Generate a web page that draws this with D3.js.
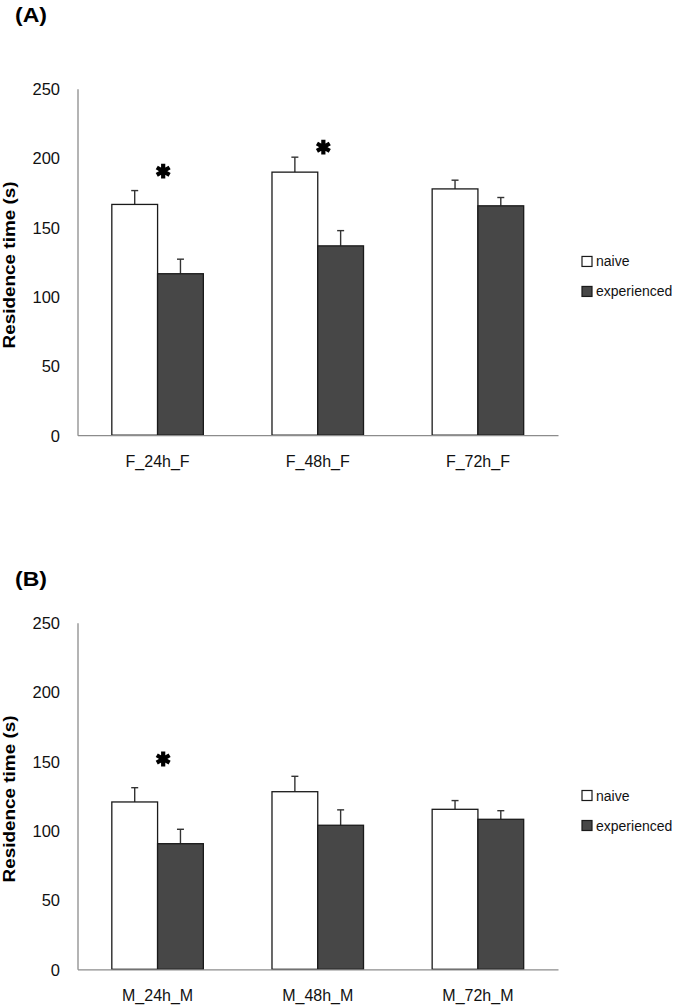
<!DOCTYPE html>
<html>
<head>
<meta charset="utf-8">
<script src="https://cdnjs.cloudflare.com/ajax/libs/d3/7.8.5/d3.min.js"></script>
<style>
  html, body { margin: 0; padding: 0; background: #fff; }
  svg { display: block; font-family: "Liberation Sans", Arial, sans-serif; }
</style>
</head>
<body>
<svg id="chart" width="675" height="1005"></svg>
<script>
// ---- data ----
const seriesNames = ["naive", "experienced"];
const yTicks = [0, 50, 100, 150, 200, 250];

const categoriesA = ["F_24h_F", "F_48h_F", "F_72h_F"];
const naiveA = [166.5, 189.8, 177.7];
const naiveErrA = [10.0, 10.8, 6.3];
const experiencedA = [116.5, 136.6, 165.5];
const experiencedErrA = [10.5, 11.0, 6.0];
const asteriskA = [190.5, 207.8, null];

const categoriesB = ["M_24h_M", "M_48h_M", "M_72h_M"];
const naiveB = [120.7, 128.1, 115.4];
const naiveErrB = [10.3, 11.1, 6.3];
const experiencedB = [90.6, 103.9, 108.2];
const experiencedErrB = [10.4, 11.1, 6.2];
const asteriskB = [151.7, null, null];

const panels = [
  { label: "(A)", cats: categoriesA, vals: [naiveA, experiencedA], errs: [naiveErrA, experiencedErrA], stars: asteriskA,
    top: 88.7, bottom: 435.2, labelY: 21.5 },
  { label: "(B)", cats: categoriesB, vals: [naiveB, experiencedB], errs: [naiveErrB, experiencedErrB], stars: asteriskB,
    top: 622.7, bottom: 969.3, labelY: 585.5 }
];

const fills = ["#ffffff", "#474747"];
const svg = d3.select("#chart");
const xLeft = 77.5, xRight = 558;

function asteriskPath(cx, cy, r) {
  const p = d3.path();
  [90, 30, -30].forEach(a => {
    const t = a * Math.PI / 180;
    p.moveTo(cx + r * Math.cos(t), cy - r * Math.sin(t));
    p.lineTo(cx - r * Math.cos(t), cy + r * Math.sin(t));
  });
  return p.toString();
}

panels.forEach(P => {
  const g = svg.append("g");
  const y = d3.scaleLinear().domain([0, 250]).range([P.bottom, P.top]);
  const x = d3.scaleBand().domain(P.cats).range([xLeft, xRight]).paddingInner(0).paddingOuter(0);
  const bw = x.bandwidth() / 3.5;
  const xs = d3.scaleBand().domain(seriesNames).range([0, 2 * bw]);

  // panel letter
  g.append("text").attr("x", 15).attr("y", P.labelY)
    .attr("font-size", 20).attr("font-weight", "bold").attr("fill", "#000")
    .attr("textLength", 32).attr("lengthAdjust", "spacingAndGlyphs")
    .text(P.label);

  // y axis
  const yAxis = d3.axisLeft(y).tickValues(yTicks).tickSize(0).tickPadding(17.5);
  const ya = g.append("g").attr("transform", `translate(${xLeft},0)`).call(yAxis);
  ya.select(".domain").attr("stroke", "#8c8c8c").attr("stroke-width", 1.3);
  ya.selectAll("text").attr("font-size", 16.5).attr("fill", "#111")
    .attr("font-family", "'Liberation Sans', Arial, sans-serif").attr("dy", "0.36em");

  // y title
  const midY = (P.top + P.bottom) / 2 + 3;
  g.append("text").attr("transform", `translate(15,${midY}) rotate(-90)`)
    .attr("text-anchor", "middle").attr("font-size", 16.5).attr("font-weight", "bold").attr("fill", "#000")
    .attr("textLength", 167).attr("lengthAdjust", "spacingAndGlyphs")
    .text("Residence time (s)");

  // bars
  P.cats.forEach((c, i) => {
    const gx = x(c) + (x.bandwidth() - 2 * bw) / 2;
    seriesNames.forEach((s, k) => {
      const v = P.vals[k][i], e = P.errs[k][i];
      const bx = gx + xs(s);
      const cx = bx + bw / 2;
      // error bar (upper only)
      g.append("line").attr("x1", cx).attr("x2", cx).attr("y1", y(v)).attr("y2", y(v + e))
        .attr("stroke", "#333").attr("stroke-width", 1.4);
      g.append("line").attr("x1", cx - 3.5).attr("x2", cx + 3.5).attr("y1", y(v + e)).attr("y2", y(v + e))
        .attr("stroke", "#333").attr("stroke-width", 1.4);
      g.append("rect").attr("x", bx).attr("y", y(v)).attr("width", bw).attr("height", y(0) - y(v))
        .attr("fill", fills[k]).attr("stroke", "#1a1a1a").attr("stroke-width", 1.3);
    });
    if (P.stars[i] != null) {
      const sx = x(c) + x.bandwidth() / 2 + 5.6;
      g.append("path").attr("d", asteriskPath(sx, y(P.stars[i]), 7.4))
        .attr("stroke", "#000").attr("stroke-width", 4.2).attr("fill", "none");
    }
  });

  // x axis
  const xAxis = d3.axisBottom(x).tickSize(0).tickPadding(0);
  const xa = g.append("g").attr("transform", `translate(0,${P.bottom})`).call(xAxis);
  xa.select(".domain").attr("stroke", "#8c8c8c").attr("stroke-width", 1.3);
  xa.selectAll("text").attr("font-size", 16).attr("fill", "#111")
    .attr("font-family", "'Liberation Sans', Arial, sans-serif").attr("y", 31.5).attr("dy", 0);

  // legend
  const legY = midY + 11.5;
  seriesNames.forEach((s, k) => {
    const cy = legY + (k - 0.5) * 30;
    g.append("rect").attr("x", 582).attr("y", cy - 5).attr("width", 10).attr("height", 10)
      .attr("fill", fills[k]).attr("stroke", "#1a1a1a").attr("stroke-width", 1.2);
    g.append("text").attr("x", 596).attr("y", cy + 5).attr("font-size", 14).attr("fill", "#111").text(s);
  });
});
</script>
</body>
</html>
